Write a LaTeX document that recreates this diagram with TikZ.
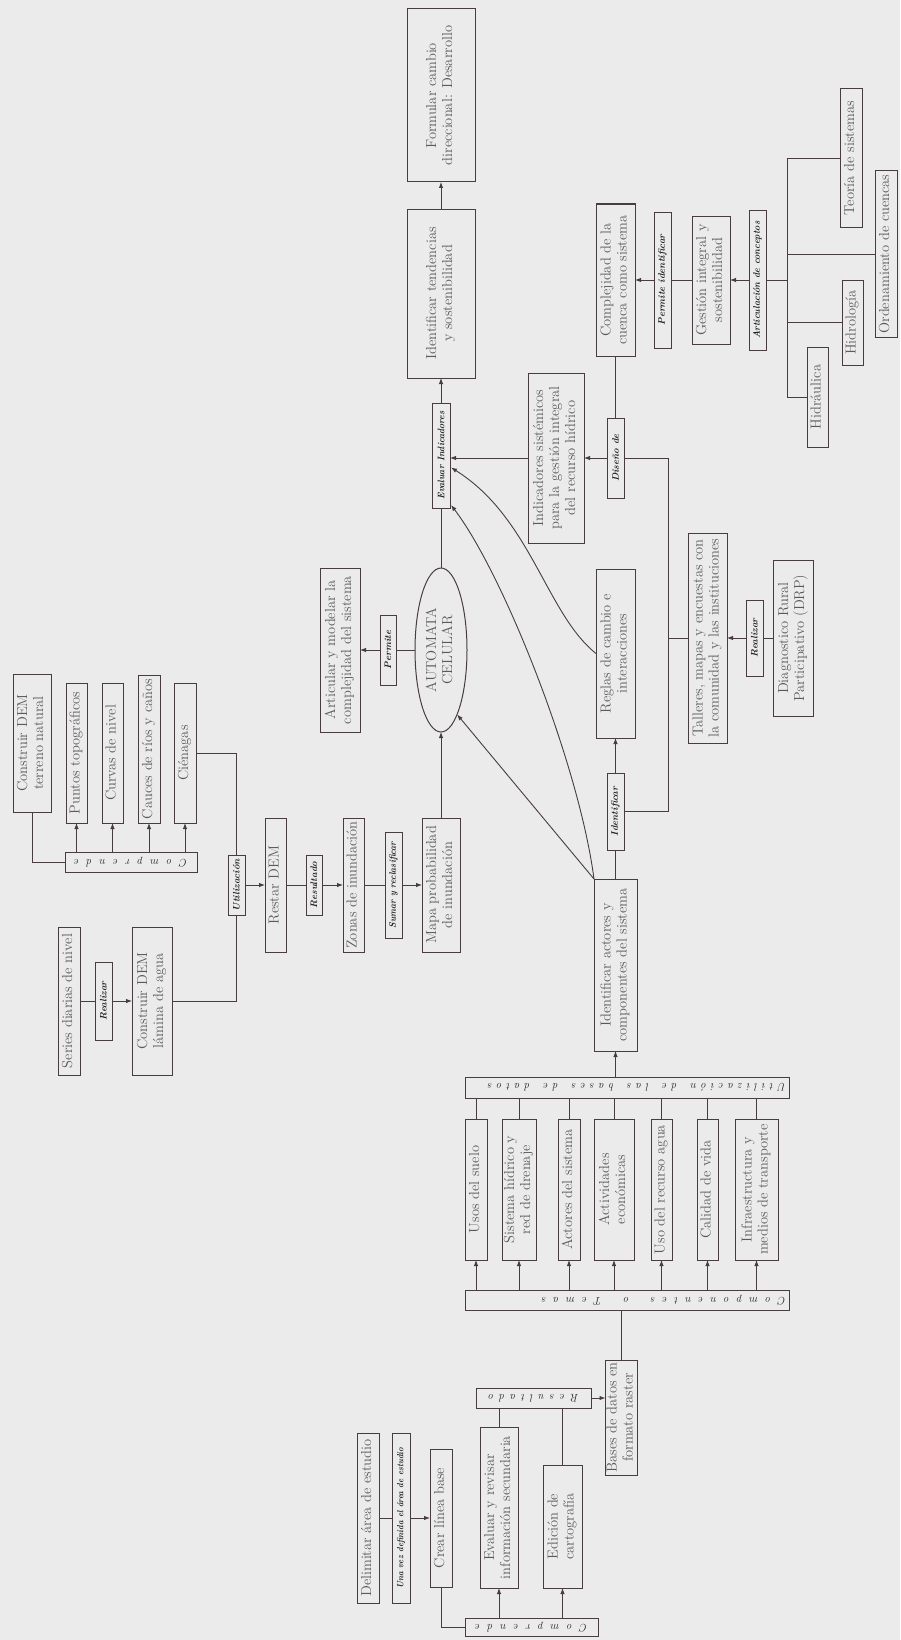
\documentclass[tikz,border=0pt]{standalone}
\usepackage{fontspec}
\usetikzlibrary{arrows.meta,shapes.geometric,calc}
\definecolor{bgc}{RGB}{235,235,235}
\definecolor{lnc}{RGB}{72,60,64}
\definecolor{txc}{RGB}{90,90,90}
\definecolor{lbc}{RGB}{35,35,35}
\newcommand\rt[1]{\rotatebox{90}{\begin{tabular}{@{}c@{}}#1\end{tabular}}}
\newcommand\BX[7][base]{%
  \pgfmathsetmacro\bxcx{(#3+#4)/2}\pgfmathsetmacro\bxcy{(#5+#6)/2}%
  \pgfmathsetmacro\bxw{#4-#3}\pgfmathsetmacro\bxh{#6-#5}%
  \node[#1, minimum width=\bxw pt, minimum height=\bxh pt] (#2) at (\bxcx,\bxcy) {#7};}
\tikzset{
  base/.style={draw=lnc, line width=1pt, fill=bgc, inner sep=0pt, outer sep=0pt, text=txc,
    font=\fontsize{14.5}{16}\selectfont},
  lab/.style={base, text=lbc, font=\fontsize{9.5}{10}\selectfont\bfseries\itshape},
  bar/.style={base, text=lbc, font=\fontsize{11}{12}\selectfont\itshape},
  ln/.style={draw=lnc, line width=0.9pt},
  arr/.style={ln, -{Latex[length=6pt,width=4.5pt]}},
}
\begin{document}
\begin{tikzpicture}[x=1pt,y=-1pt]
\useasboundingbox (0,0) rectangle (900,1640);
\fill[bgc] (0,0) rectangle (900,1640);

% ---------- central chain ----------
\BX{form}{407}{475}{9}{182}{\rt{Formular cambio\\direccional: Desarrollo}}
\BX{tend}{407}{475}{209}{378}{\rt{Identificar tendencias\\y sostenibilidad}}
\BX[lab]{evind}{432}{450}{403}{508}{\rotatebox{90}{\scalebox{0.92}[1]{Evaluar Indicadores}}}
\node[base, ellipse, minimum width=52pt, minimum height=164pt] (aut) at (441,650) {\rt{AUTOMATA\\CELULAR}};
\BX[lab]{perm}{380}{396}{615}{685}{\rotatebox{90}{Permite}}
\BX{artic}{320}{360}{568}{732}{\rt{Articular y modelar la\\complejidad del sistema}}
\BX{mapa}{422}{460}{818}{952}{\rt{Mapa probabilidad\\de inundación}}
\BX[lab]{sumar}{385}{402}{832}{938}{\rotatebox{90}{\scalebox{0.9}[1]{Sumar y reclasificar}}}
\BX{zonas}{343}{364}{818}{952}{\rt{Zonas de inundación}}
\BX[lab]{resul1}{306}{322}{855}{915}{\rotatebox{90}{Resultado}}
\BX{restar}{265}{286}{818}{952}{\rt{Restar DEM}}
\BX[lab]{util1}{228}{245}{855}{915}{\rotatebox{90}{Utilización}}

% ---------- top-left cluster ----------
\BX[bar]{comp1}{65}{197}{852}{872}{\rotatebox{180}{\makebox[113pt][s]{C\hfill o\hfill m\hfill p\hfill r\hfill e\hfill n\hfill d\hfill e}}}
\BX{cdemt}{13}{51}{674}{812}{\rt{Construir DEM\\terreno natural}}
\BX{ptos}{66}{87}{683}{823}{\rt{Puntos topográficos}}
\BX{curvas}{102}{123}{683}{823}{\rt{Curvas de nivel}}
\BX{cauces}{138}{160}{675}{823}{\rt{Cauces de ríos y caños}}
\BX{cien}{174}{196}{683}{823}{\rt{Ciénagas}}
\BX{series}{58}{80}{927}{1075}{\rt{Series diarias de nivel}}
\BX[lab]{realiz1}{95}{112}{962}{1040}{\rotatebox{90}{Realizar}}
\BX{cdeml}{132}{172}{927}{1075}{\rt{Construir DEM\\lámina de agua}}

% ---------- right side ----------
\BX{idact}{594}{637}{879}{1051}{\rt{Identificar actores y\\componentes del sistema}}
\BX[lab]{ident}{607}{624}{773}{850}{\rotatebox{90}{Identificar}}
\BX{reglas}{596}{635}{569}{738}{\rt{Reglas de cambio e\\interacciones}}
\BX{indic}{528}{584}{373}{543}{\rt{Indicadores sistémicos\\para la gestión integral\\del recurso hídrico}}
\BX[lab]{diseno}{607}{624}{418}{498}{\rotatebox{90}{Diseño de}}
\BX{compl}{596}{635}{204}{356}{\rt{Complejidad de la\\cuenca como sistema}}
\BX[lab]{permid}{654}{671}{212}{348}{\rotatebox{90}{Permite identificar}}
\BX{gest}{692}{730}{216}{344}{\rt{Gestión integral y\\sostenibilidad}}
\BX[lab]{artcon}{749}{766}{210}{350}{\rotatebox{90}{\scalebox{0.95}[1]{Articulación de conceptos}}}
\BX{teoria}{840}{862}{89}{227}{\rt{Teoría de sistemas}}
\BX{hidrol}{842}{863}{280}{365}{\rt{Hidrología}}
\BX{orden}{875}{897}{171}{337}{\rt{Ordenamiento de cuencas}}
\BX{hidrau}{807}{828}{347}{447}{\rt{Hidráulica}}
\BX{talleres}{688}{727}{533}{743}{\rt{Talleres, mapas y encuestas con\\la comunidad y las instituciones}}
\BX[lab]{realiz2}{746}{763}{600}{676}{\rotatebox{90}{Realizar}}
\BX{drp}{773}{813}{560}{716}{\rt{Diagnostico Rural\\Participativo (DRP)}}

% ---------- bottom ----------
\BX[bar]{utilbar}{465}{789}{1077}{1098}{\rotatebox{180}{\makebox[318pt][l]{\makebox[298pt][s]{U\hfill t\hfill i\hfill l\hfill i\hfill z\hfill a\hfill c\hfill i\hfill ó\hfill n\hfill\hfill\hfill d\hfill e\hfill\hfill\hfill l\hfill a\hfill s\hfill\hfill\hfill b\hfill a\hfill s\hfill e\hfill s\hfill\hfill\hfill d\hfill e\hfill\hfill\hfill d\hfill a\hfill t\hfill o\hfill s}}}}
\BX{usos}{465}{487}{1119}{1260}{\rt{Usos del suelo}}
\BX{sist}{502}{536}{1119}{1260}{\rt{Sistema hídrico y\\red de drenaje}}
\BX{actor}{558}{580}{1119}{1260}{\rt{Actores del sistema}}
\BX{activ}{594}{634}{1119}{1260}{\rt{Actividades\\económicas}}
\BX{usoag}{651}{672}{1119}{1260}{\rt{Uso del recurso agua}}
\BX{calid}{697}{718}{1119}{1260}{\rt{Calidad de vida}}
\BX{infra}{735}{778}{1119}{1260}{\rt{Infraestructura y\\medios de transporte}}
\BX[bar]{compbar}{465}{789}{1290}{1310}{\rotatebox{180}{\makebox[318pt][l]{\makebox[244pt][s]{C\hfill o\hfill m\hfill p\hfill o\hfill n\hfill e\hfill n\hfill t\hfill e\hfill s\hfill\hfill\hfill o\hfill\hfill\hfill T\hfill e\hfill m\hfill a\hfill s}}}}
\BX{bases}{606}{637}{1360}{1475}{\rt{Bases de datos en\\formato raster}}
\BX[bar]{resul2}{476}{591}{1388}{1408}{\rotatebox{180}{\makebox[90pt][s]{R\hfill e\hfill s\hfill u\hfill l\hfill t\hfill a\hfill d\hfill o}}}
\BX{evalr}{480}{518}{1427}{1588}{\rt{Evaluar y revisar\\información secundaria}}
\BX{edic}{543}{582}{1465}{1588}{\rt{Edición de\\cartografía}}
\BX[bar]{comp2}{465}{598}{1618}{1636}{\rotatebox{180}{\makebox[112pt][s]{C\hfill o\hfill m\hfill p\hfill r\hfill e\hfill n\hfill d\hfill e}}}
\BX{crear}{430}{452}{1449}{1587}{\rt{Crear línea base}}
\BX{delim}{357}{379}{1433}{1603}{\rt{Delimitar área de estudio}}
\BX[lab, font=\fontsize{9}{10}\selectfont\bfseries\itshape]{unavez}{392}{410}{1433}{1603}{\rotatebox{90}{\scalebox{0.88}[1]{Una vez definida el área de estudio}}}

% ---------- connectors: central chain ----------
\draw[arr] (tend) -- (form);
\draw[arr] (evind) -- (tend);
\draw[ln] (aut) -- (evind);
\draw[arr] (mapa) -- (aut);
\draw[ln] (aut) -- (perm);
\draw[arr] (perm) -- (artic);
\draw[ln] (restar) -- (resul1);
\draw[arr] (resul1) -- (zonas);
\draw[ln] (zonas) -- (sumar);
\draw[arr] (sumar) -- (mapa);
\draw[arr] (util1) -- (restar);
\draw[ln] (cien.east) -| (util1.north);
\draw[ln] (cdeml.east) -| (util1.south);
\draw[ln] (series) -- (realiz1);
\draw[arr] (realiz1) -- (cdeml);
\foreach \n in {ptos,curvas,cauces,cien} {\draw[arr] (comp1.north -| \n) -- (\n.south);}
\draw[ln] (cdemt.south) |- (comp1.west);

% ---------- connectors: right ----------
\draw[ln] (idact) -- (ident);
\draw[arr] (ident) -- (reglas);
\coordinate (tk) at (668,458);
\draw[ln] (ident.east) -| (tk) -- (diseno.east);
\draw[ln] (talleres.west) -- (talleres.west -| tk);
\draw[ln] (drp) -- (realiz2);
\draw[arr] (realiz2) -- (talleres);
\draw[arr] (diseno) -- (indic);
\draw[arr] (indic.west) -- (indic.west -| evind.east);
\draw[ln] (diseno) -- (compl);
\draw[arr] (permid) -- (compl);
\draw[ln] (gest) -- (permid);
\draw[arr] (artcon) -- (gest);
\coordinate (ct) at (787,158);
\coordinate (cb) at (787,397);
\draw[ln] (teoria.west) -- (ct) -- (cb) -- (hidrau.west);
\draw[ln] (orden.west) -- (orden.west -| ct);
\draw[ln] (hidrol.west) -- (hidrol.west -| ct);
\draw[ln] (artcon.east) -- (artcon.east -| ct);

% curves
\draw[arr] (idact.north west) -- (aut.-76);
\draw[arr] (idact.north west) .. controls +(-15,-115) and +(52,68) .. ($(evind.south east)+(1,-3)$);
\draw[arr] (reglas.west) .. controls +(-50,-40) and +(80,50) .. ($(evind.east)+(1,12)$);

% ---------- connectors: bottom ----------
\foreach \n in {usos,sist,actor,activ,usoag,calid,infra} {
  \draw[arr] (compbar.north -| \n) -- (\n.south);
  \draw[ln] (\n.north) -- (\n.north |- utilbar.south);
}
\draw[arr] (utilbar.north -| idact) -- (idact.south);
\draw[ln] (bases.north) -- (bases.north |- compbar.south);
\draw[arr] (resul2.east) -- (resul2.east -| bases.west);
\draw[ln] (evalr.north) -- (evalr.north |- resul2.south);
\draw[ln] (edic.north) -- (edic.north |- resul2.south);
\draw[arr] (comp2.north -| evalr) -- (evalr.south);
\draw[arr] (comp2.north -| edic) -- (edic.south);
\draw[ln] (crear.south) |- (comp2.west);
\draw[ln] (delim) -- (unavez);
\draw[arr] (unavez) -- (crear);
\end{tikzpicture}
\end{document}
